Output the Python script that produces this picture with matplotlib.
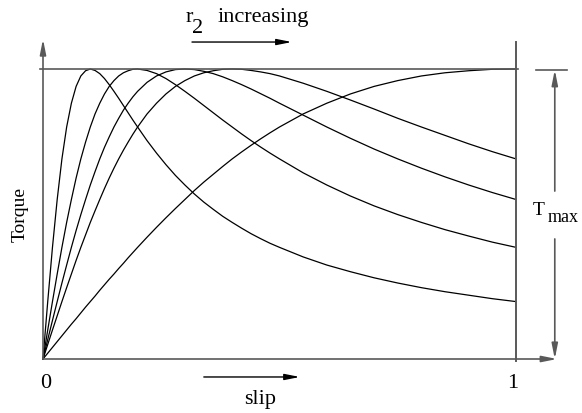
import matplotlib.pyplot as plt

# torque / Tmax for five rotor resistances (r2 increasing)
slip = [0, 0.01, 0.02, 0.03, 0.04, 0.05, 0.06, 0.07, 0.08, 0.09, 0.10,
        0.11, 0.12, 0.13, 0.14, 0.15, 0.16, 0.17, 0.18, 0.19, 0.20,
        0.22, 0.24, 0.26, 0.28, 0.30, 0.32, 0.34, 0.36, 0.38, 0.40,
        0.42, 0.44, 0.46, 0.48, 0.50, 0.55, 0.60, 0.65, 0.70, 0.75,
        0.80, 0.85, 0.90, 0.95, 1.00]

torque_1 = [0, 0.198, 0.385, 0.550, 0.690, 0.800, 0.882, 0.940, 0.976, 0.994, 1.000,
            0.995, 0.984, 0.967, 0.946, 0.923, 0.899, 0.874, 0.849, 0.824, 0.800,
            0.753, 0.710, 0.670, 0.633, 0.600, 0.569, 0.541, 0.516, 0.492, 0.471,
            0.451, 0.432, 0.415, 0.399, 0.385, 0.352, 0.324, 0.301, 0.280, 0.262,
            0.246, 0.232, 0.220, 0.208, 0.198]
torque_2 = [0, 0.100, 0.198, 0.293, 0.385, 0.471, 0.550, 0.624, 0.690, 0.748, 0.800,
            0.845, 0.882, 0.914, 0.940, 0.960, 0.976, 0.987, 0.994, 0.999, 1.000,
            0.995, 0.984, 0.967, 0.946, 0.923, 0.899, 0.874, 0.849, 0.824, 0.800,
            0.776, 0.753, 0.731, 0.710, 0.690, 0.642, 0.600, 0.562, 0.528, 0.498,
            0.471, 0.446, 0.424, 0.403, 0.385]
torque_3 = [0, 0.067, 0.133, 0.198, 0.262, 0.324, 0.385, 0.443, 0.498, 0.550, 0.600,
            0.646, 0.690, 0.730, 0.766, 0.800, 0.830, 0.858, 0.882, 0.904, 0.923,
            0.954, 0.976, 0.990, 0.998, 1.000, 0.998, 0.992, 0.984, 0.973, 0.960,
            0.946, 0.931, 0.915, 0.899, 0.882, 0.841, 0.800, 0.761, 0.724, 0.690,
            0.658, 0.628, 0.600, 0.574, 0.550]
torque_4 = [0, 0.050, 0.100, 0.149, 0.198, 0.246, 0.293, 0.340, 0.385, 0.428, 0.471,
            0.511, 0.550, 0.588, 0.624, 0.658, 0.690, 0.720, 0.748, 0.775, 0.800,
            0.845, 0.882, 0.914, 0.940, 0.960, 0.976, 0.987, 0.994, 0.999, 1.000,
            0.999, 0.995, 0.990, 0.984, 0.976, 0.951, 0.923, 0.893, 0.862, 0.830,
            0.800, 0.771, 0.742, 0.715, 0.690]
torque_5 = [0, 0.020, 0.040, 0.060, 0.080, 0.100, 0.120, 0.139, 0.159, 0.179, 0.198,
            0.217, 0.237, 0.256, 0.275, 0.293, 0.312, 0.330, 0.349, 0.367, 0.385,
            0.420, 0.454, 0.487, 0.519, 0.550, 0.581, 0.610, 0.637, 0.664, 0.690,
            0.714, 0.737, 0.759, 0.780, 0.800, 0.845, 0.882, 0.914, 0.940, 0.960,
            0.976, 0.987, 0.994, 0.999, 1.000]

curves = [torque_1, torque_2, torque_3, torque_4, torque_5]

plt.rcParams['font.family'] = ['Liberation Serif', 'DejaVu Serif']

fig = plt.figure(figsize=(5.82, 4.14), dpi=100)
ax = fig.add_axes([43 / 582, 54 / 414, 473 / 582, 290 / 414])
ax.set_xlim(0, 1)
ax.set_ylim(0, 1)
ax.axis('off')

frame = '0.35'
arrow = dict(arrowstyle='-|>,head_length=0.9,head_width=0.18', color='black',
             lw=1.0, shrinkA=0, shrinkB=0, mutation_scale=10)

for t in curves:
    ax.plot(slip, t, color='black', lw=0.9, clip_on=False, solid_joinstyle='round')

# Tmax line and slip = 1 line
ax.plot([-0.006, 1.004], [1, 1], color=frame, lw=1.2, clip_on=False)
ax.plot([1, 1], [-0.007, 1.093], color=frame, lw=1.4, clip_on=False)

# axes with arrows
ax.annotate('', xy=(0, 1.103), xytext=(0, 0), annotation_clip=False,
            arrowprops=dict(arrow, color=frame, lw=1.2))
ax.annotate('', xy=(1.087, 0), xytext=(0, 0), annotation_clip=False,
            arrowprops=dict(arrow, color=frame, lw=1.2))

# Tmax dimension, line broken around the label
ax.plot([1.042, 1.108], [0.997, 0.997], color=frame, lw=1.2, clip_on=False)
ax.annotate('', xy=(1.082, 0.997), xytext=(1.082, 0.579), annotation_clip=False,
            arrowprops=dict(arrow, color=frame, lw=1.2))
ax.annotate('', xy=(1.082, 0), xytext=(1.082, 0.414), annotation_clip=False,
            arrowprops=dict(arrow, color=frame, lw=1.2))
ax.text(1.036, 0.500, 'T', ha='left', va='baseline', fontsize=14)
ax.text(1.066, 0.476, 'max', ha='left', va='baseline', fontsize=13)

# labels
ax.text(-0.049, 0.5, 'Torque', rotation=90, ha='center', va='center', fontsize=14)
ax.text(0.006, -0.097, '0', ha='center', va='baseline', fontsize=16)
ax.text(0.994, -0.097, '1', ha='center', va='baseline', fontsize=16)
ax.annotate('', xy=(0.543, -0.062), xytext=(0.340, -0.062), arrowprops=arrow,
            annotation_clip=False)
ax.text(0.458, -0.152, 'slip', ha='center', va='baseline', fontsize=16)
ax.text(0.302, 1.166, 'r', ha='left', va='baseline', fontsize=16)
ax.text(0.315, 1.128, '2', ha='left', va='baseline', fontsize=16)
ax.text(0.368, 1.166, 'increasing', ha='left', va='baseline', fontsize=16)
ax.annotate('', xy=(0.526, 1.093), xytext=(0.315, 1.093), arrowprops=arrow,
            annotation_clip=False)

fig.savefig('out.png', dpi=100)
